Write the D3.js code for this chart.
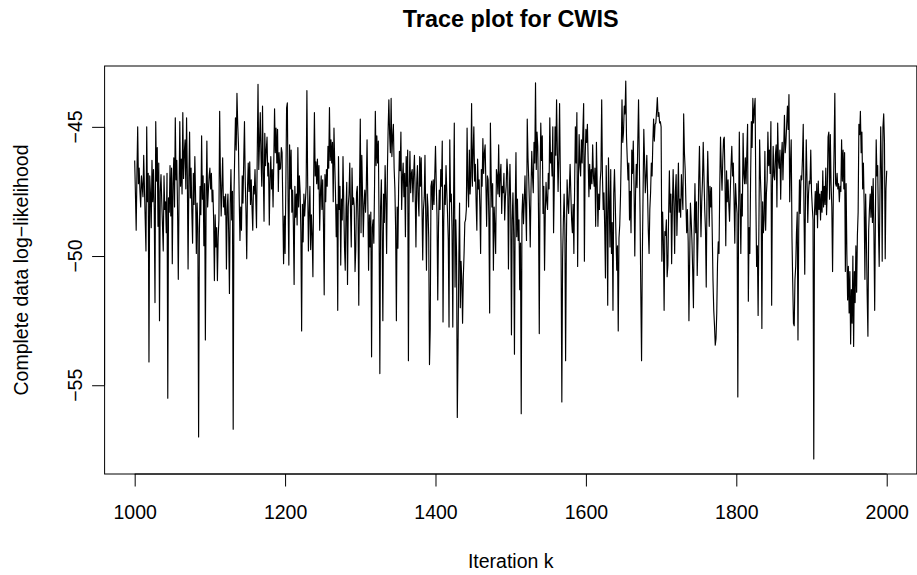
<!DOCTYPE html>
<html>
<head>
<meta charset="utf-8">
<script src="https://cdn.jsdelivr.net/npm/d3@7"></script>
<style>
  html, body { margin: 0; padding: 0; background: #fff; }
  svg { display: block; font-family: "Liberation Sans", Arial, Helvetica, sans-serif; }
</style>
</head>
<body>
<div id="chart"></div>
<script>
// Complete data log-likelihood, one value per iteration (1000..2000)
const firstIteration = 1000;
const logLik = [
  -46.3, -47.6, -49.0, -46.8, -45.0, -47.2, -46.6, -47.5, -48.1, -46.9,
  -47.3, -47.7, -46.1, -47.4, -48.6, -49.8, -45.0, -47.9, -46.8, -54.1,
  -46.9, -47.6, -48.9, -46.3, -47.9, -46.65, -48.2, -51.8, -44.8, -47.1,
  -45.8, -48.85, -46.4, -52.5, -47.5, -46.85, -47.9, -48.85, -49.8, -46.9,
  -48.2, -47.9, -49.1, -46.8, -55.5, -47.75, -48.3, -46.5, -48.45, -46.6,
  -50.3, -47.2, -46.2, -48.1, -44.65, -47.05, -46.3, -48.2, -50.9, -47.6,
  -44.8, -47.3, -46.25, -47.6, -44.45, -47.0, -46.0, -45.5, -47.4, -44.65,
  -46.9, -50.5, -47.1, -45.2, -47.75, -46.6, -48.3, -49.5, -46.8, -48.0,
  -46.15, -47.7, -49.9, -47.95, -48.9, -57.0, -49.2, -47.3, -48.4, -45.35,
  -47.8, -46.9, -49.6, -47.2, -53.25, -47.9, -45.55, -48.1, -47.45, -46.9,
  // 1100
  -46.6, -47.4, -46.8, -47.9, -47.45, -48.6, -50.95, -48.4, -49.65, -48.9,
  -50.95, -49.3, -48.6, -44.4, -46.9, -48.45, -47.3, -46.2, -48.1, -47.7,
  -48.4, -47.6, -50.5, -48.2, -47.6, -49.1, -51.45, -48.0, -46.65, -48.6,
  -47.5, -56.7, -47.7, -46.1, -44.65, -45.9, -43.7, -44.9, -45.7, -47.8,
  -49.4, -48.1, -49.0, -46.9, -47.95, -46.3, -44.8, -47.1, -48.3, -50.1,
  -47.4, -46.4, -47.5, -46.35, -48.0, -47.05, -48.1, -49.0, -47.3, -47.6,
  -46.65, -47.8, -48.9, -46.0, -43.35, -46.65, -45.6, -44.45, -46.2, -47.3,
  -44.2, -46.8, -48.65, -45.25, -46.5, -45.9, -45.4, -46.9, -46.4, -48.8,
  -47.0, -46.15, -47.4, -46.65, -48.1, -46.3, -44.3, -46.0, -45.05, -46.4,
  -45.1, -47.5, -46.0, -46.65, -46.6, -45.8, -46.0, -48.2, -50.3, -48.45,
  // 1200
  -49.9, -47.3, -44.26, -44.07, -47.9, -50.35, -45.7, -47.4, -45.9, -48.3,
  -47.45, -48.8, -51.1, -47.3, -48.5, -47.6, -48.8, -45.8, -48.1, -46.9,
  -47.5, -49.1, -52.9, -48.0, -49.45, -47.6, -48.45, -47.9, -47.3, -43.6,
  -47.1, -49.8, -48.3, -47.3, -49.75, -48.4, -49.2, -50.8, -47.05, -44.45,
  -46.9, -46.35, -47.2, -46.25, -47.4, -46.5, -49.0, -47.6, -46.9, -48.2,
  -47.05, -48.7, -51.5, -46.85, -47.9, -46.65, -47.3, -45.75, -46.6, -44.25,
  -46.3, -45.5, -46.4, -45.6, -47.9, -45.05, -46.4, -47.55, -49.25, -48.0,
  -52.1, -46.15, -48.2, -47.3, -50.35, -47.8, -48.6, -46.15, -47.9, -49.65,
  -50.55, -48.2, -47.15, -51.1, -48.1, -47.6, -46.4, -48.3, -49.65, -46.6,
  -48.0, -47.75, -48.1, -50.6, -49.75, -47.55, -47.3, -48.6, -51.9, -47.2,
  // 1300
  -44.7, -49.1, -46.1, -47.6, -49.25, -48.0, -47.45, -48.3, -47.3, -45.5,
  -47.9, -50.55, -48.4, -49.65, -48.3, -53.9, -48.9, -48.6, -49.5, -47.2,
  -44.4, -46.5, -45.35, -46.4, -45.55, -48.9, -54.55, -48.1, -47.05, -49.1,
  -52.5, -47.6, -48.7, -46.5, -47.8, -49.9, -46.8, -45.1, -43.95, -45.3,
  -46.0, -43.9, -46.15, -45.4, -44.9, -46.6, -47.4, -49.0, -52.5, -48.1,
  -49.7, -47.3, -45.95, -46.7, -45.2, -48.2, -47.0, -46.4, -47.7, -46.8,
  -49.25, -46.15, -47.3, -45.9, -54.05, -47.4, -45.95, -47.55, -46.8, -46.65,
  -47.9, -46.8, -46.1, -47.6, -49.65, -47.2, -46.5, -47.8, -48.45, -46.15,
  -47.3, -46.2, -48.0, -50.15, -48.2, -47.75, -46.1, -48.4, -50.55, -47.6,
  -48.1, -49.3, -54.2, -52.8, -47.3, -47.1, -48.2, -47.05, -48.0, -46.9,
  // 1400
  -45.75, -47.2, -48.45, -51.7, -48.9, -47.45, -48.2, -46.65, -47.3, -45.55,
  -52.55, -48.6, -47.25, -48.0, -46.5, -47.5, -48.35, -49.4, -52.75, -45.5,
  -47.9, -47.6, -49.0, -52.75, -47.9, -44.85, -51.2, -48.6, -49.9, -56.25,
  -53.5, -50.2, -47.95, -52.0, -50.2, -50.95, -52.6, -50.8, -49.9, -48.7,
  -48.6, -48.2, -45.05, -47.3, -48.1, -45.9, -47.6, -46.9, -44.1, -47.3,
  -46.0, -45.0, -47.1, -46.45, -47.9, -49.0, -46.25, -47.4, -47.05, -48.1,
  -49.9, -46.65, -47.3, -45.45, -46.8, -46.0, -45.7, -47.2, -48.85, -46.9,
  -47.05, -48.6, -52.2, -44.85, -46.9, -48.1, -47.2, -50.55, -48.1, -48.9,
  -49.9, -46.65, -46.9, -47.6, -45.7, -47.7, -46.9, -46.45, -48.35, -47.3,
  -47.55, -46.8, -48.6, -47.7, -47.3, -46.25, -46.8, -50.5, -47.8, -46.45,
  // 1500
  -48.0, -53.05, -48.6, -47.55, -49.2, -53.8, -48.1, -46.0, -49.25, -47.8,
  -49.4, -48.6, -51.3, -49.5, -56.1, -48.35, -47.6, -48.75, -47.9, -46.9,
  -48.2, -49.4, -44.7, -46.2, -47.05, -48.1, -49.65, -47.4, -45.95, -46.9,
  -47.55, -45.6, -46.4, -43.3, -46.65, -45.2, -45.75, -48.4, -53.0, -47.1,
  -44.85, -46.3, -45.35, -48.35, -47.3, -50.55, -48.3, -47.15, -47.9, -48.2,
  -46.8, -47.4, -44.65, -46.4, -46.0, -46.9, -45.0, -49.1, -47.2, -45.0,
  -46.1, -43.95, -45.9, -47.5, -46.2, -44.1, -46.9, -49.8, -55.65, -50.1,
  -48.7, -47.6, -48.8, -54.05, -49.6, -47.05, -47.9, -48.35, -47.4, -46.45,
  -47.6, -48.6, -49.1, -48.0, -49.9, -47.3, -45.0, -46.4, -44.45, -50.4,
  -47.1, -45.3, -46.5, -46.9, -45.5, -46.4, -45.1, -44.1, -50.2, -46.2,
  // 1600
  -45.1, -45.6, -44.9, -46.3, -47.7, -46.45, -47.4, -46.65, -47.2, -45.7,
  -46.9, -47.3, -46.6, -48.85, -45.6, -47.2, -48.85, -47.6, -48.2, -47.1,
  -46.65, -43.95, -46.9, -48.2, -47.55, -48.9, -50.85, -46.5, -48.3, -51.9,
  -46.2, -47.8, -49.65, -46.65, -49.9, -48.7, -52.1, -47.6, -46.65, -47.9,
  -49.25, -50.55, -49.6, -52.9, -49.3, -48.8, -47.7, -46.0, -43.95, -45.6,
  -45.2, -44.2, -44.5, -43.23, -45.4, -46.25, -47.05, -46.4, -48.6, -47.5,
  -49.1, -45.9, -46.8, -45.55, -47.3, -50.0, -47.6, -46.45, -47.35, -45.6,
  -43.95, -46.2, -48.35, -51.4, -54.05, -50.15, -47.6, -45.1, -46.3, -47.55,
  -46.9, -46.1, -47.6, -49.05, -49.9, -48.2, -47.55, -46.4, -46.9, -45.6,
  -44.7, -45.55, -44.9, -44.85, -44.4, -43.87, -44.6, -44.45, -44.85, -44.8,
  // 1700
  -45.0, -50.2, -48.3, -49.4, -52.1, -49.05, -49.2, -48.6, -50.8, -50.35,
  -48.4, -46.7, -48.3, -47.6, -50.3, -48.1, -46.65, -48.0, -49.9, -47.5,
  -46.85, -49.2, -47.9, -46.4, -48.3, -47.8, -48.5, -46.85, -47.6, -48.2,
  -44.5, -46.0, -46.65, -48.0, -49.1, -48.2, -49.45, -52.5, -50.1, -47.95,
  -48.6, -49.4, -50.6, -52.0, -48.9, -47.2, -49.1, -47.9, -50.75, -49.4,
  -47.1, -45.75, -47.6, -49.25, -47.9, -47.1, -45.6, -46.9, -48.2, -49.0,
  -51.2, -47.7, -45.95, -47.3, -48.85, -47.3, -48.1, -47.35, -49.1, -50.95,
  -52.1, -52.7, -53.45, -53.2, -52.2, -50.3, -49.45, -49.9, -47.3, -45.4,
  -46.6, -47.45, -46.3, -45.5, -45.4, -47.2, -49.6, -46.7, -47.9, -47.05,
  -48.0, -48.65, -47.5, -46.5, -45.75, -46.9, -46.4, -47.8, -49.5, -47.2,
  // 1800
  -47.9, -48.35, -55.45, -48.6, -45.2, -47.8, -49.9, -47.6, -48.45, -45.25,
  -46.8, -47.2, -46.2, -47.2, -46.0, -44.9, -51.75, -48.9, -49.9, -47.0,
  -44.8, -45.8, -43.9, -44.85, -44.3, -43.9, -47.8, -50.4, -49.6, -52.3,
  -49.0, -45.5, -46.9, -47.8, -52.8, -47.9, -49.1, -48.6, -45.95, -49.0,
  -47.6, -47.05, -45.2, -46.5, -45.9, -46.8, -44.8, -51.9, -47.3, -45.75,
  -46.9, -47.05, -46.1, -45.7, -48.1, -44.85, -46.3, -46.6, -45.9, -47.8,
  -46.2, -45.6, -47.05, -45.9, -44.55, -46.0, -45.6, -44.9, -44.2, -45.1,
  -43.75, -47.9, -46.4, -45.5, -49.25, -51.0, -52.6, -52.7, -50.9, -50.4,
  -49.1, -48.3, -53.25, -49.0, -47.05, -48.35, -46.9, -47.05, -46.2, -44.9,
  -48.3, -50.7, -47.6, -45.5, -47.05, -48.7, -47.6, -47.1, -47.2, -45.9,
  // 1900
  -47.5, -48.1, -48.6, -57.85, -48.3, -47.5, -48.4, -47.2, -48.9, -47.1,
  -48.2, -47.6, -48.6, -47.5, -48.3, -46.7, -48.1, -47.3, -48.0, -46.6,
  -48.4, -47.4, -45.4, -45.2, -47.8, -45.3, -47.2, -48.1, -50.6, -47.7,
  -45.9, -43.7, -47.2, -47.3, -46.8, -47.4, -47.2, -47.9, -47.3, -47.5,
  -45.5, -47.1, -45.9, -47.4, -46.0, -50.6, -47.2, -49.9, -51.7, -50.4,
  -52.2, -50.6, -53.4, -51.3, -52.6, -50.0, -53.5, -50.6, -51.8, -49.6,
  -51.4, -49.2, -48.3, -44.9, -45.3, -44.4, -46.0, -45.2, -47.4, -46.4,
  -48.0, -50.9, -47.6, -49.3, -51.5, -53.1, -49.0, -48.2, -47.6, -48.5,
  -47.3, -48.7, -47.0, -49.1, -52.1, -48.4, -45.5, -46.9, -46.5, -48.9,
  -50.4, -47.6, -45.0, -46.7, -50.2, -45.0, -44.5, -45.6, -50.1, -47.4,
  -46.7
];

const xTicks = [1000, 1200, 1400, 1600, 1800, 2000];
const yTicks = [-55, -50, -45];
const chartTitle = 'Trace plot for CWIS';
const xTitle = 'Iteration k';
const yTitle = 'Complete data log\u2212likelihood';

(function() {
    'use strict';

    const width = 917;
    const height = 575;
    const margin = { top: 66, right: 0.2, bottom: 101, left: 104.6 };
    const fontSize = 19.5;
    const tickLen = 12.5;

    const svg = d3.select('#chart')
        .append('svg')
        .attr('width', width)
        .attr('height', height)
        .attr('viewBox', [0, 0, width, height]);

    svg.append('rect')
        .attr('width', width)
        .attr('height', height)
        .attr('fill', '#fff');

    // R style ranges: data range padded by 4% on both sides
    const iterations = logLik.map((d, i) => firstIteration + i);
    const pad = ([lo, hi]) => [lo - (hi - lo) * 0.04, hi + (hi - lo) * 0.04];

    const x = d3.scaleLinear()
        .domain(pad(d3.extent(iterations)))
        .range([margin.left, width - margin.right]);

    const y = d3.scaleLinear()
        .domain(pad(d3.extent(logLik)))
        .range([height - margin.bottom, margin.top]);

    const plotBottom = height - margin.bottom;

    // Trace line
    const line = d3.line()
        .x((d, i) => x(iterations[i]))
        .y(d => y(d));

    svg.append('path')
        .datum(logLik)
        .attr('fill', 'none')
        .attr('stroke', '#000')
        .attr('stroke-width', 1.15)
        .attr('stroke-linejoin', 'round')
        .attr('d', line);

    // Box
    svg.append('rect')
        .attr('x', margin.left)
        .attr('y', margin.top)
        .attr('width', width - margin.right - margin.left)
        .attr('height', plotBottom - margin.top)
        .attr('fill', 'none')
        .attr('stroke', '#000')
        .attr('stroke-width', 1);

    // X axis (line only between first and last tick, like base R)
    const xAxis = svg.append('g')
        .attr('transform', `translate(0,${plotBottom})`)
        .call(d3.axisBottom(x)
            .tickValues(xTicks)
            .tickFormat(d3.format('d'))
            .tickSize(tickLen)
            .tickPadding(18.5)
            .tickSizeOuter(0));
    xAxis.select('.domain').remove();
    xAxis.append('line')
        .attr('x1', x(xTicks[0]))
        .attr('x2', x(xTicks[xTicks.length - 1]))
        .attr('stroke', '#000');
    xAxis.selectAll('.tick line').attr('stroke', '#000');
    xAxis.selectAll('.tick text')
        .attr('fill', '#000')
        .attr('font-size', fontSize)
        .attr('font-family', '"Liberation Sans", Arial, sans-serif');

    // Y axis with rotated labels
    const yAxis = svg.append('g')
        .attr('transform', `translate(${margin.left},0)`)
        .call(d3.axisLeft(y)
            .tickValues(yTicks)
            .tickSize(tickLen)
            .tickFormat(() => '')
            .tickSizeOuter(0));
    yAxis.select('.domain').remove();
    yAxis.append('line')
        .attr('y1', y(yTicks[0]))
        .attr('y2', y(yTicks[yTicks.length - 1]))
        .attr('stroke', '#000');
    yAxis.selectAll('.tick line').attr('stroke', '#000');

    svg.append('g')
        .selectAll('text')
        .data(yTicks)
        .join('text')
        .attr('transform', d => `translate(82,${y(d)}) rotate(-90)`)
        .attr('text-anchor', 'middle')
        .attr('font-size', fontSize)
        .text(d => String(d).replace('-', '\u2212'));

    // Titles
    const plotCenterX = (margin.left + width - margin.right) / 2;
    svg.append('text')
        .attr('x', plotCenterX)
        .attr('y', 27)
        .attr('text-anchor', 'middle')
        .attr('font-size', 23.4)
        .attr('font-weight', 'bold')
        .text(chartTitle);

    svg.append('text')
        .attr('x', plotCenterX)
        .attr('y', 568)
        .attr('text-anchor', 'middle')
        .attr('font-size', fontSize)
        .text(xTitle);

    svg.append('text')
        .attr('transform', `translate(28,${(margin.top + plotBottom) / 2}) rotate(-90)`)
        .attr('text-anchor', 'middle')
        .attr('font-size', fontSize)
        .text(yTitle);
})();
</script>
</body>
</html>
